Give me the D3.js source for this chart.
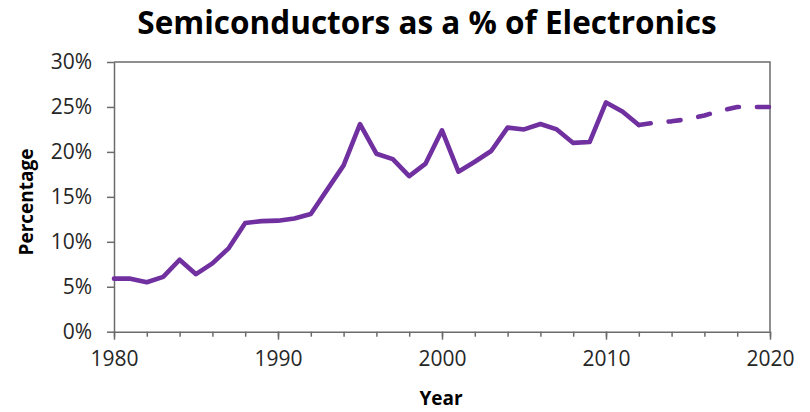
<!DOCTYPE html>
<html>
<head>
<meta charset="utf-8">
<script src="https://cdn.jsdelivr.net/npm/d3@7"></script>
<style>
  html, body { margin: 0; padding: 0; background: #fff; }
  svg { display: block; }
</style>
</head>
<body>
<svg id="chart" width="810" height="412"></svg>
<script>
// Semiconductor share of electronics, actual years
const actualYears = [1980, 1981, 1982, 1983, 1984, 1985, 1986, 1987, 1988, 1989,
  1990, 1991, 1992, 1993, 1994, 1995, 1996, 1997, 1998, 1999,
  2000, 2001, 2002, 2003, 2004, 2005, 2006, 2007, 2008, 2009,
  2010, 2011, 2012];
const actualValues = [5.9, 5.9, 5.5, 6.1, 8.0, 6.4, 7.6, 9.3, 12.1, 12.3,
  12.35, 12.6, 13.1, 15.8, 18.5, 23.1, 19.8, 19.2, 17.3, 18.7,
  22.4, 17.8, 18.9, 20.1, 22.7, 22.5, 23.1, 22.5, 21.0, 21.1,
  25.5, 24.5, 23.0];

// Forecast, continuing from the last actual year
const forecastYears = [2012, 2013, 2014, 2015, 2016, 2017, 2018, 2019, 2020];
const forecastValues = [23.0, 23.25, 23.4, 23.65, 24.05, 24.6, 25.0, 25.0, 25.0];

const yTickValues = [0, 5, 10, 15, 20, 25, 30];
const xMajorTicks = [1980, 1990, 2000, 2010, 2020];
const xMinorTicks = d3.range(1980, 2021, 2);

const titleText = "Semiconductors as a % of Electronics";
const xTitle = "Year";
const yTitle = "Percentage";

const margin = { left: 114, right: 40, top: 62, bottom: 80.3 };
const W = 810, H = 412;
const svg = d3.select("#chart");
const axisColor = "#6b6b6b";
const lineColor = "#7030A0";
const font = "'Open Sans', 'Noto Sans', sans-serif";

const x = d3.scaleLinear().domain([1980, 2020]).range([margin.left, W - margin.right]);
const y = d3.scaleLinear().domain([0, 30]).range([H - margin.bottom, margin.top]);

// Plot-area frame (top and right edges)
svg.append("path")
  .attr("d", `M${x(1980)},${y(30)}H${x(2020)}V${y(0)}`)
  .attr("fill", "none").attr("stroke", axisColor).attr("stroke-width", 1.5);

// Y axis
const yAxis = d3.axisLeft(y).tickValues(yTickValues).tickSize(7).tickSizeOuter(0)
  .tickFormat(d => d + "%").tickPadding(15);
const gy = svg.append("g").attr("transform", `translate(${x(1980)},0)`).call(yAxis);
gy.select(".domain").attr("stroke", axisColor).attr("stroke-width", 1.5);
gy.selectAll(".tick line").attr("stroke", axisColor).attr("stroke-width", 1.5);
gy.selectAll(".tick text").attr("font-family", font).attr("font-size", 21)
  .attr("fill", "#262626");

// X axis: minor ticks every two years, longer ticks at the decades
const xMinor = d3.axisBottom(x).tickValues(xMinorTicks).tickSize(5).tickSizeOuter(0).tickFormat("");
const gxMinor = svg.append("g").attr("transform", `translate(0,${y(0)})`).call(xMinor);
gxMinor.select(".domain").attr("stroke", axisColor).attr("stroke-width", 1.5);
gxMinor.selectAll(".tick line").attr("stroke", axisColor).attr("stroke-width", 1.5);

const xAxis = d3.axisBottom(x).tickValues(xMajorTicks).tickSize(8).tickSizeOuter(0)
  .tickFormat(d3.format("d")).tickPadding(11);
const gx = svg.append("g").attr("transform", `translate(0,${y(0)})`).call(xAxis);
gx.select(".domain").remove();
gx.selectAll(".tick line").attr("stroke", axisColor).attr("stroke-width", 1.5);
gx.selectAll(".tick text").attr("font-family", font).attr("font-size", 21)
  .attr("fill", "#262626");

// Series lines
const line = d3.line().x(d => x(d[0])).y(d => y(d[1])).curve(d3.curveLinear);

svg.append("path")
  .datum(actualYears.map((yr, i) => [yr, actualValues[i]]))
  .attr("d", line)
  .attr("fill", "none").attr("stroke", lineColor).attr("stroke-width", 4.6)
  .attr("stroke-linejoin", "round").attr("stroke-linecap", "round");

svg.append("path")
  .datum(forecastYears.map((yr, i) => [yr, forecastValues[i]]))
  .attr("d", line)
  .attr("fill", "none").attr("stroke", lineColor).attr("stroke-width", 4.6)
  .attr("stroke-linejoin", "round").attr("stroke-linecap", "round")
  .attr("stroke-dasharray", "12,18");

// Titles
svg.append("text")
  .attr("x", 427).attr("y", 34)
  .attr("text-anchor", "middle")
  .attr("font-family", font).attr("font-weight", 700).attr("font-size", 31.5)
  .attr("fill", "#000")
  .text(titleText);

svg.append("text")
  .attr("x", 441).attr("y", 405)
  .attr("text-anchor", "middle")
  .attr("font-family", font).attr("font-weight", 700).attr("font-size", 19)
  .attr("fill", "#000")
  .text(xTitle);

svg.append("text")
  .attr("transform", "translate(33,202) rotate(-90)")
  .attr("text-anchor", "middle")
  .attr("font-family", font).attr("font-weight", 700).attr("font-size", 19)
  .attr("fill", "#000")
  .text(yTitle);
</script>
</body>
</html>
